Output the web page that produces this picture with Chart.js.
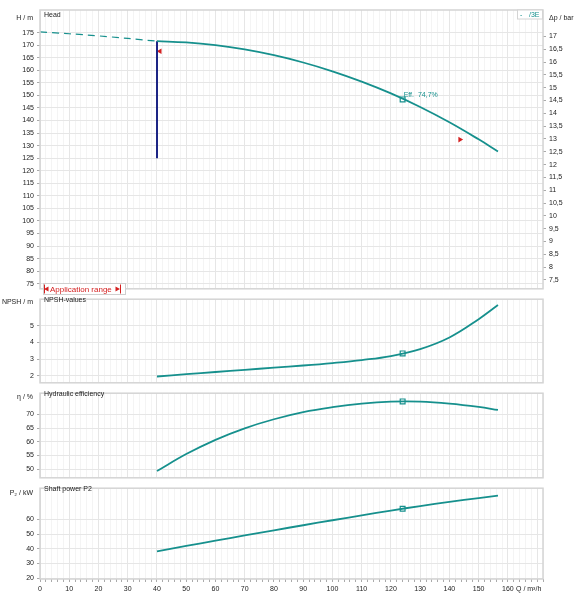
<!DOCTYPE html>
<html>
<head>
<meta charset="utf-8">
<script src="https://cdn.jsdelivr.net/npm/chart.js@4.4.1/dist/chart.umd.min.js"></script>
<style>
body{margin:0;background:#fff;}
.panel{position:absolute;left:0;width:583px;}
</style>
</head>
<body>
<div class="panel" style="top:0;height:296px"><canvas id="headChart"></canvas></div>
<div class="panel" style="top:292px;height:98px"><canvas id="npshChart"></canvas></div>
<div class="panel" style="top:386px;height:99px"><canvas id="effChart"></canvas></div>
<div class="panel" style="top:481px;height:119px"><canvas id="powerChart"></canvas></div>
<script>
// 1 data
const flow = [40, 50, 60, 70, 80, 90, 100, 110, 120, 130, 140, 150, 156.6];
const headValues = [171.6, 171.1, 170.0, 168.3, 166.0, 163.1, 159.6, 155.5, 150.8, 145.4, 139.3, 132.5, 127.7];
const npshValues = [1.95, 2.09, 2.22, 2.35, 2.48, 2.61, 2.76, 2.94, 3.18, 3.6, 4.3, 5.4, 6.25];
const effValues = [49.3, 55.5, 60.7, 64.9, 68.2, 70.8, 72.6, 73.9, 74.6, 74.6, 73.9, 72.7, 71.6];
const powerValues = [38.3, 41.95, 45.55, 49.1, 52.6, 56.05, 59.45, 62.8, 66.05, 69.15, 72.0, 74.6, 76.2];

// dashed part of head curve below min flow
const dashFlow = [0, 20, 40];
const dashHead = [175.3, 173.7, 171.6];

// duty point
const dutyFlow = 124;
const dutyHead = 148.4, dutyNpsh = 3.34, dutyEff = 74.7, dutyPower = 67.3;
const effLabel = "Eff.  74,7%";

// min flow line + application range markers
const limitFlow = [40, 40];
const limitHead = [171.6, 125];
const rangeFlow = [41, 143.6];
const rangeHead = [167.6, 132.4];

// 2 axes / tick labels
const flowRange = [0, 172];
const flowLabels = [0, 10, 20, 30, 40, 50, 60, 70, 80, 90, 100, 110, 120, 130, 140, 150, 160];
const headRange = [73, 184];
const headTicks = [75, 80, 85, 90, 95, 100, 105, 110, 115, 120, 125, 130, 135, 140, 145, 150, 155, 160, 165, 170, 175];
const barPerMetre = 0.098;
const barTicks = [7.5, 8, 8.5, 9, 9.5, 10, 10.5, 11, 11.5, 12, 12.5, 13, 13.5, 14, 14.5, 15, 15.5, 16, 16.5, 17];
const npshRange = [1.57, 6.6];
const npshTicks = [2, 3, 4, 5];
const effRange = [46.85, 77.7];
const effTicks = [50, 55, 60, 65, 70];
const powerRange = [19.4, 81.3];
const powerTicks = [20, 30, 40, 50, 60];

const teal = "#16908d";
const navy = "#1d2585";
const red = "#d42020";
const fontFamily = '"Liberation Sans", Arial, sans-serif';

Chart.defaults.font.family = fontFamily;
Chart.defaults.font.size = 7;
Chart.defaults.color = "#222";

function pairs(xs, ys) {
  return xs.map((x, i) => ({ x: x, y: ys[i] }));
}

// minor x ticks every 2
let xTickValues = [];
for (let v = flowRange[0]; v <= flowRange[1]; v += 2) xTickValues.push(v);

function xScale(showLabels) {
  return {
    type: "linear",
    min: flowRange[0],
    max: flowRange[1],
    afterBuildTicks: (s) => { s.ticks = xTickValues.map((v) => ({ value: v })); },
    afterFit: (s) => { s.height = showLabels ? 21 : 0; },
    border: { display: false },
    grid: {
      color: (c) => (c.tick && c.tick.value % 10 === 0 ? "#e6e6e6" : "#f4f4f4"),
      tickColor: "#aaa",
      drawTicks: showLabels,
      tickLength: 3,
    },
    ticks: {
      display: showLabels,
      autoSkip: false,
      maxRotation: 0,
      padding: 3,
      callback: (v) => (flowLabels.includes(v) ? String(v) : ""),
    },
  };
}

function yScale(range, ticks) {
  return {
    type: "linear",
    position: "left",
    min: range[0],
    max: range[1],
    afterBuildTicks: (s) => { s.ticks = ticks.map((v) => ({ value: v })); },
    afterFit: (s) => { s.width = 40; },
    border: { display: false },
    grid: { color: "#e6e6e6", tickColor: "#aaa", tickLength: 3 },
    ticks: { padding: 3, callback: (v) => String(v) },
  };
}

function curve(xs, ys, dashed) {
  return {
    type: "line",
    data: pairs(xs, ys),
    borderColor: teal,
    borderWidth: dashed ? 1.2 : 1.8,
    borderDash: dashed ? [7, 5] : [],
    pointRadius: 0,
    tension: 0.4,
    fill: false,
  };
}

function dutyPoint(y) {
  return {
    type: "scatter",
    data: [{ x: dutyFlow, y: y }],
    pointStyle: "rect",
    pointRadius: 3.4,
    pointBackgroundColor: "#fff",
    pointBorderColor: teal,
    pointBorderWidth: 1.2,
  };
}

// panel frame + texts
const panelDeco = {
  id: "panelDeco",
  afterDraw(chart, args, opts) {
    const ctx = chart.ctx;
    const a = chart.chartArea;
    ctx.save();
    ctx.strokeStyle = "#d4d4d4";
    ctx.lineWidth = 1.5;
    ctx.strokeRect(a.left, a.top, a.right - a.left, a.bottom - a.top);
    ctx.textBaseline = "middle";
    (opts.texts || []).forEach((t) => {
      ctx.font = (t.size || 7) + "px " + fontFamily;
      ctx.fillStyle = t.color || "#222";
      ctx.textAlign = t.align || "left";
      ctx.fillText(t.text, t.x, t.y);
    });
    if (opts.extra) opts.extra(chart, ctx);
    ctx.restore();
  },
};

function triangle(ctx, x, y, dir) {
  ctx.beginPath();
  ctx.moveTo(x + dir * 3, y);
  ctx.lineTo(x - dir * 1.5, y - 2.5);
  ctx.lineTo(x - dir * 1.5, y + 2.5);
  ctx.closePath();
  ctx.fill();
}

function drawHeadExtras(chart, ctx) {
  const xs = chart.scales.x, ys = chart.scales.y;
  ctx.font = "7px " + fontFamily;
  ctx.fillStyle = teal;
  ctx.textAlign = "left";
  ctx.fillText(effLabel, xs.getPixelForValue(dutyFlow) + 1, ys.getPixelForValue(dutyHead) - 4);

  // small legend box top right
  ctx.fillStyle = "#fff";
  ctx.fillRect(517, 10, 25, 9);
  ctx.strokeStyle = "#d4d4d4";
  ctx.lineWidth = 1;
  ctx.strokeRect(517.5, 10, 25, 9);
  ctx.fillStyle = teal;
  ctx.fillText("-", 520, 15);
  ctx.fillText("/3E", 529, 15);

  // application range box
  ctx.fillStyle = "#fff";
  ctx.fillRect(43, 283, 83, 11);
  ctx.strokeStyle = "#cfcfcf";
  ctx.strokeRect(43.5, 283.5, 82, 11);
  ctx.strokeStyle = red;
  ctx.fillStyle = red;
  ctx.lineWidth = 1;
  ctx.beginPath();
  ctx.moveTo(44.5, 284.5); ctx.lineTo(44.5, 293.5);
  ctx.moveTo(120.5, 284.5); ctx.lineTo(120.5, 293.5);
  ctx.stroke();
  triangle(ctx, 47, 289, -1);
  triangle(ctx, 117, 289, 1);
  ctx.font = "8px " + fontFamily;
  ctx.fillText("Application range", 50, 289.5);
}

function makeChart(id, datasets, scales, padding, deco) {
  return new Chart(document.getElementById(id).getContext("2d"), {
    data: { datasets: datasets },
    options: {
      responsive: true,
      maintainAspectRatio: false,
      animation: false,
      events: [],
      layout: { padding: padding },
      scales: scales,
      plugins: { legend: { display: false }, tooltip: { enabled: false }, panelDeco: deco },
    },
    plugins: [panelDeco],
  });
}

// 3 head panel
makeChart(
  "headChart",
  [
    curve(dashFlow, dashHead, true),
    curve(flow, headValues, false),
    {
      type: "line",
      data: pairs(limitFlow, limitHead),
      borderColor: navy,
      borderWidth: 2,
      pointRadius: 0,
    },
    {
      type: "scatter",
      data: pairs(rangeFlow, rangeHead),
      pointStyle: "triangle",
      rotation: [-90, 90],
      pointRadius: 3.2,
      pointBackgroundColor: red,
      pointBorderColor: red,
      pointBorderWidth: 0,
    },
    dutyPoint(dutyHead),
  ],
  {
    x: xScale(false),
    y: yScale(headRange, headTicks),
    y2: {
      type: "linear",
      position: "right",
      min: headRange[0] * barPerMetre,
      max: headRange[1] * barPerMetre,
      afterBuildTicks: (s) => { s.ticks = barTicks.map((v) => ({ value: v })); },
      afterFit: (s) => { s.width = 40; },
      border: { display: false },
      grid: { drawOnChartArea: false, tickColor: "#aaa", tickLength: 3 },
      ticks: { padding: 3, callback: (v) => String(v).replace(".", ",") },
    },
  },
  { top: 10, bottom: 2, left: 0, right: 0 },
  {
    texts: [
      { text: "Head", x: 44, y: 15 },
      { text: "H / m", x: 33, y: 18, align: "right" },
      { text: "\u0394p / bar", x: 549, y: 18 },
    ],
    extra: drawHeadExtras,
  }
);

// 4 NPSH panel
makeChart(
  "npshChart",
  [curve(flow, npshValues, false), dutyPoint(dutyNpsh)],
  { x: xScale(false), y: yScale(npshRange, npshTicks) },
  { top: 2, bottom: 2, left: 0, right: 40 },
  {
    texts: [
      { text: "NPSH-values", x: 44, y: 8 },
      { text: "NPSH / m", x: 33, y: 10, align: "right" },
    ],
  }
);

// 5 efficiency panel
makeChart(
  "effChart",
  [curve(flow, effValues, false), dutyPoint(dutyEff)],
  { x: xScale(false), y: yScale(effRange, effTicks) },
  { top: 2, bottom: 2, left: 0, right: 40 },
  {
    texts: [
      { text: "Hydraulic efficiency", x: 44, y: 8 },
      { text: "\u03b7 / %", x: 33, y: 11, align: "right" },
    ],
  }
);

// 6 shaft power panel
makeChart(
  "powerChart",
  [curve(flow, powerValues, false), dutyPoint(dutyPower)],
  { x: xScale(true), y: yScale(powerRange, powerTicks) },
  { top: 2, bottom: 0, left: 0, right: 40 },
  {
    texts: [
      { text: "Shaft power P2", x: 44, y: 8 },
      { text: "P\u2082 / kW", x: 33, y: 12, align: "right" },
      { text: "Q / m\u00b3/h", x: 516, y: 108 },
    ],
  }
);
</script>
</body>
</html>
